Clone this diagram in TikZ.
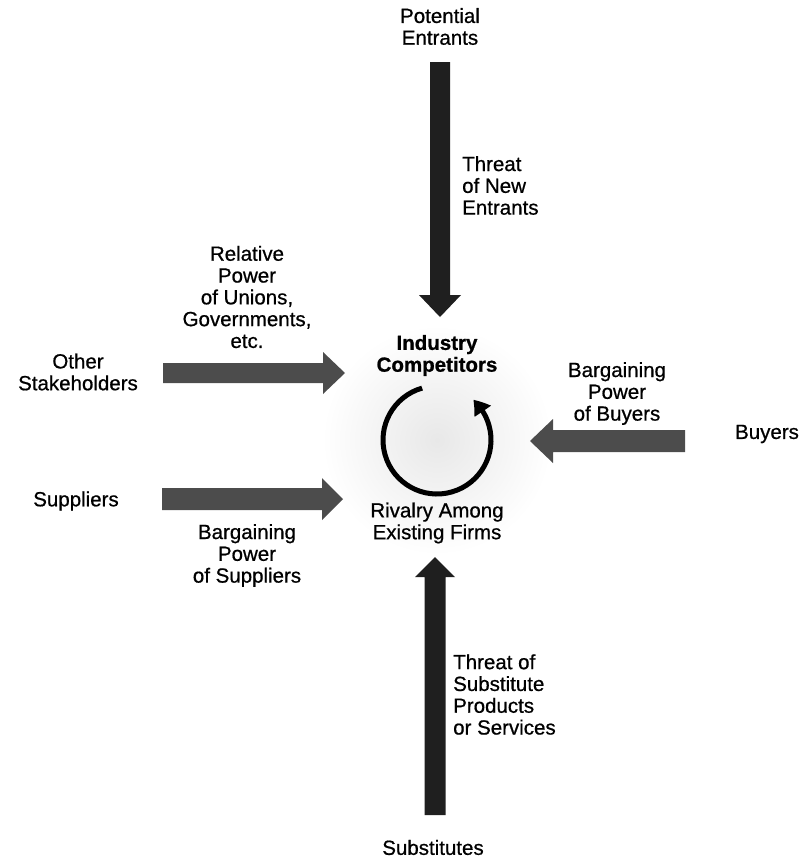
\documentclass[tikz,border=0pt]{standalone}
\usepackage{fontspec}
\setmainfont{Liberation Sans}
\newfontfamily\lblfont{Liberation Sans}[FakeBold=0.7]
\newfontfamily\lblboldfont{Liberation Sans Bold}[FakeBold=0.9]
\usetikzlibrary{calc,arrows.meta,bending}
\newcommand\blockarrow[6][]{%
  \coordinate (hb) at ($(#3)!#6pt!(#2)$);
  \fill[#1] ($(#2)!#4pt!-90:(#3)$) -- ($(hb)!#4pt!-90:(#3)$) -- ($(hb)!#5pt!-90:(#3)$)
    -- (#3) -- ($(hb)!#5pt!90:(#3)$) -- ($(hb)!#4pt!90:(#3)$) -- ($(#2)!#4pt!90:(#3)$) -- cycle;}
\tikzset{
  lbl/.style={inner sep=0pt, align=center, font=\lblfont\fontsize{20.5}{21.8}\selectfont},
  lbll/.style={lbl, align=left, anchor=west},
  vblock/.style={fill=black!88},
  hblock/.style={fill=black!70},
}
\begin{document}
\begin{tikzpicture}[x=1pt,y=1pt]
\useasboundingbox (0,0) rectangle (803,-860);
% faint stipple around centre
\shade[inner color=black!9, outer color=white] (437,-440) circle[radius=115];
% labels
\node[lbl] (pe) at (440,-26.5) {Potential\\Entrants};
\node[lbll] (tne) at (462,-185.5) {Threat\\of New\\Entrants};
\node[lbl] (rp) at (247,-297) {Relative\\Power\\of Unions,\\Governments,\\etc.};
\node[lbl] (os) at (78,-372) {Other\\Stakeholders};
\node[lbl, font=\lblboldfont\fontsize{20.5}{21.8}\selectfont] (ic) at (437,-355.5) {Industry\\Competitors};
\node[lbl] (bpb) at (617,-393.5) {Bargaining\\Power\\of Buyers};
\node[lbl] (by) at (767,-434) {Buyers};
\node[lbl] (su) at (76,-501) {Suppliers};
\node[lbl] (ra) at (437,-523) {Rivalry Among\\Existing Firms};
\node[lbl] (bps) at (247,-555.5) {Bargaining\\Power\\of Suppliers};
\node[lbll] (ts) at (453,-694.5) {Threat of\\Substitute\\Products\\or Services};
\node[lbl] (sb) at (433,-847.5) {Substitutes};
% arrow end points
\coordinate (t0) at (440,-62);  \coordinate (t1) at (440,-317);
\coordinate (b0) at (435,-815); \coordinate (b1) at (435,-557);
\coordinate (l0) at (163,-373); \coordinate (l1) at (345,-373);
\coordinate (m0) at (162,-499); \coordinate (m1) at (343,-499);
\coordinate (r0) at (685,-441); \coordinate (r1) at (530,-441);
\blockarrow[vblock]{t0}{t1}{10}{21}{22}
\blockarrow[vblock]{b0}{b1}{10.5}{20}{20}
\blockarrow[hblock]{l0}{l1}{10}{21}{22}
\blockarrow[hblock]{m0}{m1}{11}{21}{21}
\blockarrow[hblock]{r0}{r1}{11}{22}{23}
% rivalry circle
\coordinate (cc) at (437,-440);
\draw[line width=5pt, -{Triangle[width=19pt,length=15pt,bend]}] ($(cc)+(106:54)$) arc[start angle=106, end angle=408, radius=54];
\end{tikzpicture}
\end{document}
